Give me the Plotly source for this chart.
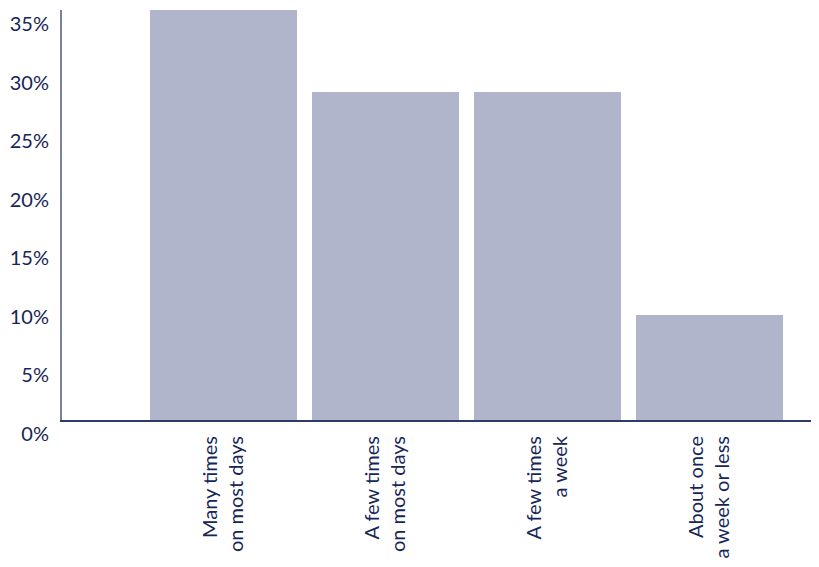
import plotly.graph_objects as go

categories = ["Many times<br>on most days", "A few times<br>on most days", "A few times<br>a week", "About once<br>a week or less"]
positions = [1, 2, 3, 4]
values = [35, 28, 28, 9]
y_ticks = [0, 5, 10, 15, 20, 25, 30, 35]
y_tick_labels = ["0%", "5%", "10%", "15%", "20%", "25%", "30%", "35%"]

TEXT = "#172657"
BAR = "#b0b5cb"

fig = go.Figure(go.Bar(
    x=positions, y=values, width=0.907,
    marker=dict(color=BAR, line=dict(width=0)),
    hoverinfo="skip",
))

# page body has an 8px default margin, so the figure is offset by it
fig.update_layout(
    width=811, height=551,
    margin=dict(l=54, r=0, t=2, b=139),
    paper_bgcolor="white", plot_bgcolor="white",
    font=dict(family="Lato", size=20, color=TEXT),
    showlegend=False,
    bargap=0,
)
fig.update_xaxes(
    range=[0.003, 4.676],
    tickvals=positions, ticktext=categories,
    tickangle=-90, ticks="", ticklabelstandoff=6,
    showline=True, linecolor="#2d3c66", linewidth=2,
    showgrid=False, zeroline=False, automargin=False,
    tickfont=dict(size=20, color=TEXT),
)
fig.update_yaxes(
    range=[0, 35],
    tickvals=y_ticks, ticktext=y_tick_labels,
    ticks="", ticklabelposition="outside bottom",
    showline=True, linecolor="#7b829e", linewidth=2,
    showgrid=False, zeroline=False, automargin=False,
    tickfont=dict(size=20, color=TEXT),
    ticklabelstandoff=7,
)

fig.write_html("out.html")
